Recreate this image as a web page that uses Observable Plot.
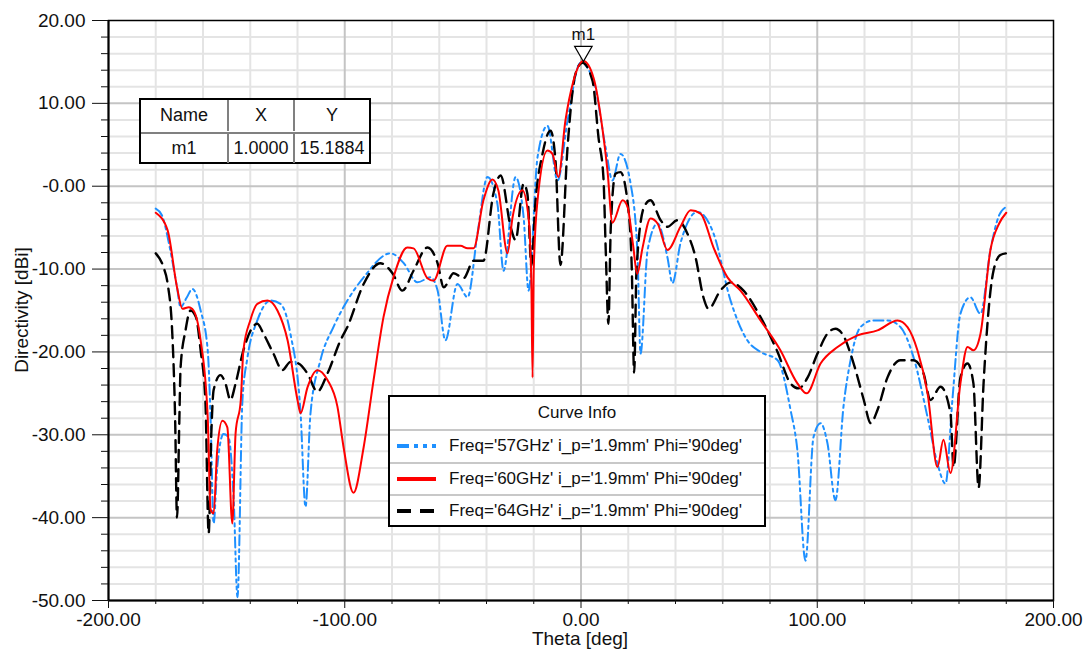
<!DOCTYPE html>
<html>
<head>
<meta charset="utf-8">
<script src="https://cdn.jsdelivr.net/npm/d3@7"></script>
<script src="https://cdn.jsdelivr.net/npm/@observablehq/plot@0.6"></script>
<style>
  html, body { margin: 0; padding: 0; background: #fff; }
  #wrap { position: relative; width: 1086px; height: 652px; font-family: "Liberation Sans", Arial, sans-serif; }
  .box { position: absolute; background: #fff; border: 2px solid #000; box-sizing: border-box; color: #111; }
  .cell { position: absolute; box-sizing: border-box; display: flex; align-items: center; justify-content: center; font-size: 18px; }
</style>
</head>
<body>
<div id="wrap"></div>
<script>
// ---- data ----
const theta57 = [-180,-177.4,-174,-171,-169.5,-167,-164.5,-161,-158,-156.8,-155.5,-154,-151.3,-149.2,-147,-145.4,-143.3,-141.2,-137,-131.4,-127.2,-123,-118.7,-116.6,-114.5,-110.3,-104.8,-98.9,-92,-80.6,-75,-69.2,-63.7,-60.7,-57.4,-52.3,-48,-43.8,-39.6,-35.4,-32.8,-27.7,-24.3,-22.2,-18.4,-14.2,-9.9,-5.7,-0.2,5.3,10.4,13.3,16.7,21,23.9,25.2,28.2,32.4,36.6,38.7,42.1,49.3,56.1,63.3,70.4,76,83.2,88.7,91.6,95,98.4,101.4,104.3,107.7,111.1,114.1,118.3,123.8,129.7,135.2,140.7,146.7,150.9,154.3,157.2,160.6,164.8,169.1,173.3,177,180];
const dir57 = [-2.7,-3.5,-7.5,-12.2,-14.6,-13.5,-12.4,-15,-19.8,-27.9,-40.7,-34,-29.9,-30.3,-37.9,-49.6,-25.8,-20.7,-16.2,-13.8,-14.2,-17.8,-27.4,-38.7,-27.4,-21,-17,-13.8,-11,-8.1,-9.3,-11.6,-11,-12.6,-18.6,-11.8,-13.4,-5.7,1.1,-2.1,-10.2,1.1,-3.7,-12.6,3.5,7.3,0.7,7.9,14.9,12.7,4.7,0.7,3.9,0.3,-8.1,-20.2,-7.7,-4.5,-8.6,-11.7,-6.9,-3.1,-5.7,-13.8,-18.6,-20,-21,-27,-31.9,-45.2,-30.3,-28.6,-31,-37.9,-26.6,-21,-17,-16.2,-16.2,-17,-20.6,-27.9,-33.5,-35.9,-25.8,-15.4,-13.4,-15.4,-7.7,-3.5,-2.5];

const theta60 = [-180,-175,-171,-168.7,-166,-164,-161,-158,-156.8,-155.5,-154,-151.8,-149.7,-147.6,-146.2,-144,-142.9,-140,-137,-132.7,-128.5,-124.2,-120,-118.7,-115.8,-111.6,-107.3,-103.1,-100.5,-96.3,-92,-87.8,-83.6,-79.4,-73.5,-70.9,-65,-62.4,-56.6,-51,-48,-45.5,-41.3,-37.5,-35,-31.1,-29,-24.8,-22.2,-21,-20.5,-20,-18.4,-14.2,-12.1,-9.6,-6.6,-3.2,1,5.3,9,11.2,13.3,17.6,19.7,22,23.8,26,29.4,32.4,36.6,42.1,46.4,50.6,56.1,62,67.5,76,84.4,91.6,95.5,101.4,108.6,117,125.5,134,138.2,142.4,146.7,150.9,153.4,156.4,160.6,163.6,166.1,169.1,173.3,177,180];
const dir60 = [-3.2,-5.3,-12.2,-14.8,-14.6,-15,-18.6,-27.9,-39,-39.5,-31.9,-28.3,-29.1,-40.7,-29.8,-25.8,-19.8,-16.2,-14.2,-13.8,-15,-18.6,-25.8,-27.4,-24.3,-22.2,-23.4,-26.6,-31.5,-37,-31.5,-23.4,-15.8,-11,-7.4,-7.5,-11.1,-11.4,-7.2,-7.2,-7.5,-7.5,-1.7,0.8,-0.5,-8.1,-3.8,-0.5,-3.8,-12,-23.1,-10,-1.7,4.3,3.9,1.1,7.9,12.7,15.1,13.1,7.1,1.9,-4.4,-1.7,-2.5,-7,-10.6,-7.5,-3.9,-4.5,-7.7,-4.9,-2.9,-3.3,-7.4,-11,-12.6,-16.2,-19.8,-23.8,-25,-21.4,-19.4,-18,-17.4,-16.2,-17,-19.8,-25,-33.9,-30.6,-34.6,-23.8,-19.4,-19.8,-17.8,-7.7,-4.5,-3.2];

const theta64 = [-180,-176.7,-175,-173,-171.8,-171,-170,-169.5,-167.4,-165.3,-163,-161,-159,-157.6,-156.5,-155.5,-152.6,-150.5,-148.4,-146.2,-142.9,-137,-134.4,-130.2,-126.4,-123,-119.5,-115.8,-111.6,-107.3,-101.8,-98.9,-92,-84.9,-79.8,-75.6,-70.9,-65,-60.7,-58.1,-53.9,-49.7,-45.5,-41.3,-37.1,-34,-29.8,-27.7,-24.3,-22.7,-21,-19.3,-16.3,-12.9,-10.8,-8.7,-5.7,-2.3,0.6,4.9,7.4,9.5,10.5,11.6,12.6,14.6,16.7,20.1,21.5,22.5,23.5,26.7,29.4,33.7,36.6,40.8,45,48.5,51.8,54,59,63.3,68.8,76,83.2,88.7,92.1,95.9,100.1,104.3,107.7,111,115.4,119.7,122.6,125.5,129.7,135.2,140.7,145,147.9,152.2,156.4,157.7,160.6,163.6,166.1,168.3,170.4,174.6,177.5,180];
const dir64 = [-8.1,-9.8,-11.7,-17.8,-28,-40,-28,-21.9,-17.4,-15,-15.8,-19.8,-25.8,-41.9,-30,-24.6,-22.8,-23.8,-25.8,-23.8,-19.8,-16.6,-17.8,-20.2,-22.2,-21.2,-21.4,-22.6,-24.8,-22.6,-18.6,-17,-11.8,-9.3,-10.5,-12.6,-10.2,-7.4,-9.3,-12.2,-10.5,-11.1,-9,-9,-0.9,1.3,-4.9,-6.5,0.3,-0.9,-9.6,-2,3.9,6.7,3.1,-9.5,4.7,13.6,14.9,12.7,5.9,1,-8,-16.6,-5,1.5,1.7,-2.9,-10,-22.5,-10,-2.5,-1.7,-4.1,-4.9,-4.1,-5.7,-8.6,-13.4,-14.8,-12.6,-11.6,-12.6,-15.8,-20,-23.8,-24.4,-23.1,-20.2,-17.8,-17.2,-18,-21.4,-25.8,-28.6,-27,-23.1,-21,-21,-22.6,-25.8,-24.2,-27.4,-33.9,-23.1,-21.4,-23.8,-36.4,-23.8,-10.2,-8.3,-8.1];

const seriesNames = ["Freq='57GHz' i_p='1.9mm' Phi='90deg'", "Freq='60GHz' i_p='1.9mm' Phi='90deg'", "Freq='64GHz' i_p='1.9mm' Phi='90deg'"];
const markerName = "m1", markerX = 1.0, markerY = 15.1884;

const xMajor = [-200,-100,0,100,200];
const xMinor = [-180,-160,-140,-120,-80,-60,-40,-20,20,40,60,80,120,140,160,180];
const yMajor = [20,10,0,-10,-20,-30,-40,-50];
const yMinor = [18,16,14,12,8,6,4,2,-2,-4,-6,-8,-12,-14,-16,-18,-22,-24,-26,-28,-32,-34,-36,-38,-42,-44,-46,-48];

// ---- build table ----
const rows = [];
theta57.forEach((t,i) => rows.push({s:0, x:t, y:dir57[i]}));
theta60.forEach((t,i) => rows.push({s:1, x:t, y:dir60[i]}));
theta64.forEach((t,i) => rows.push({s:2, x:t, y:dir64[i]}));
const colors = ["#1E90FF", "#FF0000", "#000000"];
const dashes = ["10,4,3,4,3,4", null, "12,7"];
const widths = [2, 2, 2.4];

const fmtY = d => d === 0 ? "-0.00" : d.toFixed(2);
const fmtX = d => d.toFixed(2);

const chart = Plot.plot({
  width: 1086, height: 652,
  marginLeft: 108, marginRight: 33, marginTop: 20, marginBottom: 52,
  style: {fontFamily: "'Liberation Sans', Arial, sans-serif", fontSize: "19px", color: "#111", background: "#fff"},
  x: {domain: [-200, 200]},
  y: {domain: [-50, 20]},
  marks: [
    Plot.ruleX(xMinor, {stroke: "#e4e4e4", strokeWidth: 2}),
    Plot.ruleY(yMinor, {stroke: "#e4e4e4", strokeWidth: 2}),
    Plot.ruleX([-100, 0, 100], {stroke: "#c4c4c4", strokeWidth: 2}),
    Plot.ruleY([10, 0, -10, -20, -30, -40], {stroke: "#c4c4c4", strokeWidth: 2}),
    ...[0, 2, 1].map(s => Plot.line(rows.filter(r => r.s === s), {
      x: "x", y: "y", stroke: colors[s], strokeWidth: widths[s],
      strokeDasharray: dashes[s], curve: "monotone-x"
    })),
    Plot.frame({stroke: "#000", strokeWidth: 1.5}),
    Plot.ruleX([-200], {stroke: "#000", strokeWidth: 2}),
    Plot.ruleY([-50], {stroke: "#000", strokeWidth: 2}),
    Plot.axisY({ticks: yMajor, tickSize: 16, tickPadding: 7, tickFormat: fmtY, label: null, fontSize: 19}),
    Plot.axisY({ticks: yMinor, tickSize: 7, tickFormat: () => "", label: null}),
    Plot.axisX({ticks: xMajor, tickSize: 8, tickPadding: 4, tickFormat: fmtX, label: null, fontSize: 19}),
    Plot.axisX({ticks: xMinor, tickSize: 4, tickFormat: () => "", label: null}),
    Plot.dot([{x: markerX, y: markerY}], {x: "x", y: "y", symbol: "triangle", r: 6.5, rotate: 180, dy: -9, stroke: "#000", fill: "#fff", strokeWidth: 1.2}),
    Plot.text([{x: markerX, y: markerY, t: markerName}], {x: "x", y: "y", text: "t", dy: -26, fontSize: 17, fill: "#111"})
  ]
});

const wrap = document.getElementById("wrap");
wrap.appendChild(chart);

// axis titles
function addText(txt, css) {
  const d = document.createElement("div");
  d.textContent = txt;
  d.style.position = "absolute";
  d.style.whiteSpace = "nowrap";
  Object.assign(d.style, css);
  wrap.appendChild(d);
  return d;
}
addText("Theta [deg]", {left: "580px", top: "628px", transform: "translateX(-50%)", fontSize: "19px", color: "#111"});
addText("Directivity [dBi]", {left: "22px", top: "310px", transform: "translate(-50%,-50%) rotate(-90deg)", fontSize: "19px", color: "#111"});

// marker table
const tbl = document.createElement("div");
tbl.className = "box";
Object.assign(tbl.style, {left: "139px", top: "98px", width: "232px", height: "66px"});
const colX = [0, 86, 152, 228];
const hdr = ["Name", "X", "Y"];
const vals = [markerName, markerX.toFixed(4), markerY.toFixed(4)];
for (let c = 0; c < 3; c++) {
  [hdr[c], vals[c]].forEach((t, r) => {
    const cell = document.createElement("div");
    cell.className = "cell";
    cell.textContent = t;
    Object.assign(cell.style, {left: colX[c] + "px", top: (r * 32) + "px", width: (colX[c+1] - colX[c]) + "px", height: "31px"});
    if (c > 0) cell.style.borderLeft = "2px solid #808080";
    if (r === 1) cell.style.borderTop = "2px solid #808080";
    tbl.appendChild(cell);
  });
}
wrap.appendChild(tbl);

// curve info legend
const leg = document.createElement("div");
leg.className = "box";
Object.assign(leg.style, {left: "388px", top: "395px", width: "378px", height: "132px"});
const title = document.createElement("div");
title.className = "cell";
title.textContent = "Curve Info";
Object.assign(title.style, {left: "0px", top: "0px", width: "374px", height: "32px", fontSize: "17px"});
leg.appendChild(title);
seriesNames.forEach((n, i) => {
  const row = document.createElement("div");
  row.className = "cell";
  Object.assign(row.style, {left: "0px", top: (32 + i * 32.5) + "px", width: "374px", height: "32.5px", justifyContent: "flex-start", borderTop: "2px solid #c8c8c8"});
  const svg = d3.create("svg").attr("width", 59).attr("height", 12).style("flex", "none");
  svg.append("line").attr("x1", 7).attr("x2", 46).attr("y1", 6).attr("y2", 6)
    .attr("stroke", colors[i]).attr("stroke-width", 4)
    .attr("stroke-dasharray", i === 0 ? "12,5,4,5,4,5" : (i === 2 ? "14,9" : null));
  row.appendChild(svg.node());
  const sp = document.createElement("span");
  sp.textContent = n;
  sp.style.fontSize = "17px";
  row.appendChild(sp);
  leg.appendChild(row);
});
wrap.appendChild(leg);
</script>
</body>
</html>
